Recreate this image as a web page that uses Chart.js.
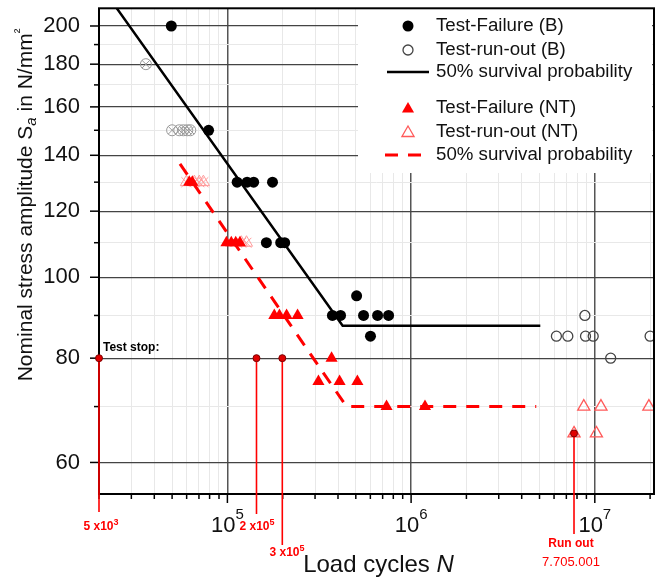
<!DOCTYPE html>
<html>
<head>
<meta charset="utf-8">
<script src="https://cdn.jsdelivr.net/npm/chart.js@4.4.1/dist/chart.umd.min.js"></script>
<style>
  body { margin: 0; background: #fff; }
  canvas { display: block; }
</style>
</head>
<body>
<canvas id="sn" width="663" height="578"></canvas>
<script>
// Test-Failure (B): load cycles N and stress amplitude Sa
const failB_N = [4.95e4, 7.9e4, 1.13e5, 1.28e5, 1.39e5, 1.76e5, 1.63e5, 1.95e5, 2.05e5, 3.73e5, 4.13e5, 5.05e5, 5.51e5, 6.57e5, 7.54e5, 6.01e5];
const failB_S = [200, 150, 130, 130, 130, 130, 110, 110, 110, 90, 90, 95, 90, 90, 90, 85];

// Test-run-out (B)
const runB_N = [8.83e6, 6.18e6, 7.13e6, 8.9e6, 9.8e6, 2.0e7, 1.22e7];
const runB_S = [90, 85, 85, 85, 85, 85, 80];

// crossed out (B) points
const crossB_N = [3.6e4, 5.0e4, 5.47e4, 5.76e4, 6.05e4, 6.28e4];
const crossB_S = [180, 150, 150, 150, 150, 150];

// Test-Failure (NT)
const failNT_N = [6.2e4, 6.44e4, 9.88e4, 1.05e5, 1.11e5, 1.17e5, 1.8e5, 1.92e5, 2.1e5, 2.41e5, 3.69e5, 3.13e5, 4.08e5, 5.1e5, 7.35e5, 1.19e6];
const failNT_S = [130, 130, 110, 110, 110, 110, 90, 90, 90, 90, 80, 75, 75, 75, 70, 70];

// Test-run-out (NT)
const runNT_N = [8.71e6, 1.08e7, 1.97e7, 7.705e6, 1.02e7];
const runNT_S = [70, 70, 70, 65, 65];

// crossed out (NT) points
const crossNT_N = [5.98e4, 6.61e4, 7.03e4, 7.4e4, 1.19e5, 1.27e5];
const crossNT_S = [130, 130, 130, 130, 110, 110];

// 50% survival probability curves
const curveB_N = [2.5e4, 4.24e5, 5.05e6];
const curveB_S = [210, 87.5, 87.5];
const curveNT_N = [5.52e4, 4.45e5, 4.8e6];
const curveNT_S = [136.7, 70, 70];

// axis ticks
const xTicks = [2e4, 3e4, 4e4, 5e4, 6e4, 7e4, 8e4, 9e4, 1e5, 2e5, 3e5, 4e5, 5e5, 6e5, 7e5, 8e5, 9e5,
  1e6, 2e6, 3e6, 4e6, 5e6, 6e6, 7e6, 8e6, 9e6, 1e7, 2e7];
const xMajor = [1e5, 1e6, 1e7];
const xExp = ['5', '6', '7'];
const yTicks = [60, 70, 80, 90, 100, 110, 120, 130, 140, 150, 160, 170, 180, 190, 200];
const yLabels = [60, 80, 100, 120, 140, 160, 180, 200];

// test stop / run out markers
const stopN = [2e4, 1.44e5, 1.99e5, 7.705e6];
const stopS = [80, 80, 80, 65];

const FONT = '"Liberation Sans", Arial, sans-serif';
const RED = '#ff0000';

function pts(ns, ss) {
  return ns.map((n, i) => ({ x: n, y: ss[i] }));
}

function drawParts(ctx, parts, x, y, align) {
  // parts: [text, font, dy]
  let total = 0;
  parts.forEach(p => { ctx.font = p[1]; total += ctx.measureText(p[0]).width; });
  let cx = align === 'center' ? x - total / 2 : x;
  ctx.textAlign = 'left';
  ctx.textBaseline = 'middle';
  parts.forEach(p => {
    ctx.font = p[1];
    ctx.fillText(p[0], cx, y + p[2]);
    cx += ctx.measureText(p[0]).width;
  });
}

function triangle(ctx, x, y, r) {
  ctx.beginPath();
  for (let k = 0; k < 3; k++) {
    const a = k * 2 * Math.PI / 3;
    const px = x + Math.sin(a) * r, py = y - Math.cos(a) * r;
    if (k === 0) ctx.moveTo(px, py); else ctx.lineTo(px, py);
  }
  ctx.closePath();
}

const decor = {
  id: 'decor',
  beforeDatasetsDraw(chart) {
    // white legend box over the grid
    const ctx = chart.ctx;
    ctx.save();
    ctx.fillStyle = '#fff';
    ctx.fillRect(358, 6, 294, 167);
    ctx.restore();
  },
  afterDraw(chart) {
    const { ctx, chartArea: a, scales: { x, y } } = chart;
    ctx.save();

    // frame
    ctx.strokeStyle = '#000';
    ctx.lineWidth = 2;
    ctx.strokeRect(a.left, a.top, a.right - a.left, a.bottom - a.top);

    // tick marks
    ctx.lineWidth = 1.5;
    xTicks.forEach(v => {
      const px = x.getPixelForValue(v);
      const len = xMajor.includes(v) ? 9 : 5;
      ctx.beginPath(); ctx.moveTo(px, a.bottom); ctx.lineTo(px, a.bottom + len); ctx.stroke();
    });
    yTicks.forEach(v => {
      const py = y.getPixelForValue(v);
      const len = yLabels.includes(v) ? 9 : 5;
      ctx.beginPath(); ctx.moveTo(a.left - len, py); ctx.lineTo(a.left, py); ctx.stroke();
    });

    // tick labels
    ctx.fillStyle = '#111';
    ctx.font = '22px ' + FONT;
    ctx.textAlign = 'right';
    ctx.textBaseline = 'middle';
    yLabels.forEach(v => ctx.fillText(String(v), a.left - 19, y.getPixelForValue(v)));
    xMajor.forEach((v, i) => {
      drawParts(ctx, [['10', '22px ' + FONT, 0], [xExp[i], '15px ' + FONT, -11]],
        x.getPixelForValue(v), a.bottom + 32, 'center');
    });

    // axis titles
    drawParts(ctx, [['Load cycles ', '24px ' + FONT, 0], ['N', 'italic 24px ' + FONT, 0]],
      (a.left + a.right) / 2 + 2, a.bottom + 71, 'center');
    ctx.save();
    ctx.translate(26, 205);
    ctx.rotate(-Math.PI / 2);
    drawParts(ctx, [['Nominal stress amplitude S', '21px ' + FONT, 0], ['a', 'italic 15px ' + FONT, 6],
      [' in N/mm', '21px ' + FONT, 0], ['\u00b2', '14px ' + FONT, -6]], 0, 0, 'center');
    ctx.restore();

    // legend
    const lx = 408;
    ctx.fillStyle = '#000';
    ctx.beginPath(); ctx.arc(lx, 26, 5.5, 0, 2 * Math.PI); ctx.fill();
    ctx.strokeStyle = '#444'; ctx.lineWidth = 1.3;
    ctx.beginPath(); ctx.arc(lx, 50, 5, 0, 2 * Math.PI); ctx.stroke();
    ctx.strokeStyle = '#000'; ctx.lineWidth = 2.5;
    ctx.beginPath(); ctx.moveTo(387, 72); ctx.lineTo(429, 72); ctx.stroke();
    ctx.fillStyle = RED;
    triangle(ctx, lx, 109, 7); ctx.fill();
    ctx.strokeStyle = '#ff5a5a'; ctx.lineWidth = 1.3;
    triangle(ctx, lx, 133, 7); ctx.stroke();
    ctx.strokeStyle = RED; ctx.lineWidth = 3;
    ctx.setLineDash([13, 10]);
    ctx.beginPath(); ctx.moveTo(385, 155); ctx.lineTo(421, 155); ctx.stroke();
    ctx.setLineDash([]);
    ctx.fillStyle = '#111';
    ctx.font = '18.7px ' + FONT;
    ctx.textAlign = 'left';
    ctx.textBaseline = 'middle';
    const names = chart.data.datasets.filter(d => d.inLegend).map(d => d.label);
    [26, 50, 72, 108, 132, 155].forEach((ly, i) => ctx.fillText(names[i], 436, ly));

    // test stop markers
    ctx.fillStyle = '#000';
    ctx.font = 'bold 12px ' + FONT;
    ctx.fillText('Test stop:', a.left + 4, y.getPixelForValue(80) - 10);
    const drop = [18, 20, 51, 40];
    stopN.forEach((n, i) => {
      const px = x.getPixelForValue(n), py = y.getPixelForValue(stopS[i]);
      ctx.strokeStyle = RED; ctx.lineWidth = 1.6;
      ctx.beginPath(); ctx.moveTo(px, py); ctx.lineTo(px, a.bottom + drop[i]); ctx.stroke();
      ctx.fillStyle = '#e00000'; ctx.strokeStyle = '#7a0000'; ctx.lineWidth = 1;
      ctx.beginPath(); ctx.arc(px, py, 3.5, 0, 2 * Math.PI); ctx.fill(); ctx.stroke();
    });
    ctx.fillStyle = RED;
    const bf = 'bold 12px ' + FONT, sf = 'bold 9px ' + FONT;
    drawParts(ctx, [['5 x10', bf, 0], ['3', sf, -4]], 101, 527, 'center');
    drawParts(ctx, [['2 x10', bf, 0], ['5', sf, -4]], 257, 527, 'center');
    drawParts(ctx, [['3 x10', bf, 0], ['5', sf, -4]], 287, 553, 'center');
    ctx.textAlign = 'center';
    ctx.font = bf;
    ctx.fillText('Run out', 571, 544);
    ctx.font = '13px ' + FONT;
    ctx.fillText('7.705.001', 571, 562);

    ctx.restore();
  }
};

new Chart(document.getElementById('sn'), {
  type: 'scatter',
  data: {
    datasets: [
      { label: 'Test-Failure (B)', inLegend: true, data: pts(failB_N, failB_S), pointStyle: 'circle',
        pointRadius: 5.5, backgroundColor: '#000', borderColor: '#000', borderWidth: 0, clip: 0, order: 1 },
      { label: 'Test-run-out (B)', inLegend: true, data: pts(runB_N, runB_S), pointStyle: 'circle',
        pointRadius: 5, backgroundColor: 'rgba(255,255,255,0)', borderColor: '#444', borderWidth: 1.3, clip: 0, order: 2 },
      { label: '50% survival probability', inLegend: true, data: pts(curveB_N, curveB_S), showLine: true,
        pointRadius: 0, borderColor: '#000', borderWidth: 2.5, clip: 0, order: 6 },
      { label: 'Test-Failure (NT)', inLegend: true, data: pts(failNT_N, failNT_S), pointStyle: 'triangle',
        pointRadius: 7, backgroundColor: RED, borderColor: RED, borderWidth: 0, clip: 0, order: 3 },
      { label: 'Test-run-out (NT)', inLegend: true, data: pts(runNT_N, runNT_S), pointStyle: 'triangle',
        pointRadius: 7, backgroundColor: 'rgba(255,255,255,0)', borderColor: '#ff5a5a', borderWidth: 1.3, clip: 0, order: 4 },
      { label: '50% survival probability', inLegend: true, data: pts(curveNT_N, curveNT_S), showLine: true,
        pointRadius: 0, borderColor: RED, borderWidth: 3, borderDash: [13, 10], clip: 0, order: 5 },
      { label: 'crossed B', data: pts(crossB_N, crossB_S), pointStyle: 'circle', pointRadius: 5.5,
        backgroundColor: 'rgba(255,255,255,0)', borderColor: '#999', borderWidth: 1, clip: 0, order: 7 },
      { label: 'crossed B x', data: pts(crossB_N, crossB_S), pointStyle: 'crossRot', pointRadius: 5.5,
        borderColor: '#999', borderWidth: 1, clip: 0, order: 7 },
      { label: 'crossed NT', data: pts(crossNT_N, crossNT_S), pointStyle: 'triangle', pointRadius: 7,
        backgroundColor: 'rgba(255,255,255,0)', borderColor: '#ff9a9a', borderWidth: 1, clip: 0, order: 7 },
      { label: 'crossed NT x', data: pts(crossNT_N, crossNT_S), pointStyle: 'crossRot', pointRadius: 7,
        borderColor: '#ff9a9a', borderWidth: 1, clip: 0, order: 7 }
    ]
  },
  options: {
    responsive: false,
    animation: false,
    devicePixelRatio: 1,
    layout: { padding: { left: 0, top: 4, right: 9, bottom: 0 } },
    plugins: { legend: { display: false }, tooltip: { enabled: false } },
    scales: {
      x: {
        type: 'logarithmic', min: 2e4, max: 2.1e7,
        afterBuildTicks: s => { s.ticks = xTicks.map(v => ({ value: v })); },
        afterFit: s => { s.height = 84; },
        ticks: { display: false },
        border: { display: false },
        grid: {
          drawTicks: false,
          color: c => xMajor.includes(c.tick && c.tick.value) ? '#555' : '#e8e8e8',
          lineWidth: c => xMajor.includes(c.tick && c.tick.value) ? 1.5 : 1
        }
      },
      y: {
        type: 'logarithmic', min: 55, max: 210,
        afterBuildTicks: s => { s.ticks = yTicks.map(v => ({ value: v })); },
        afterFit: s => { s.width = 99; },
        ticks: { display: false },
        border: { display: false },
        grid: {
          drawTicks: false,
          color: c => yLabels.includes(c.tick && c.tick.value) ? '#444' : '#e8e8e8',
          lineWidth: c => yLabels.includes(c.tick && c.tick.value) ? 1.2 : 1
        }
      }
    }
  },
  plugins: [decor]
});
</script>
</body>
</html>
